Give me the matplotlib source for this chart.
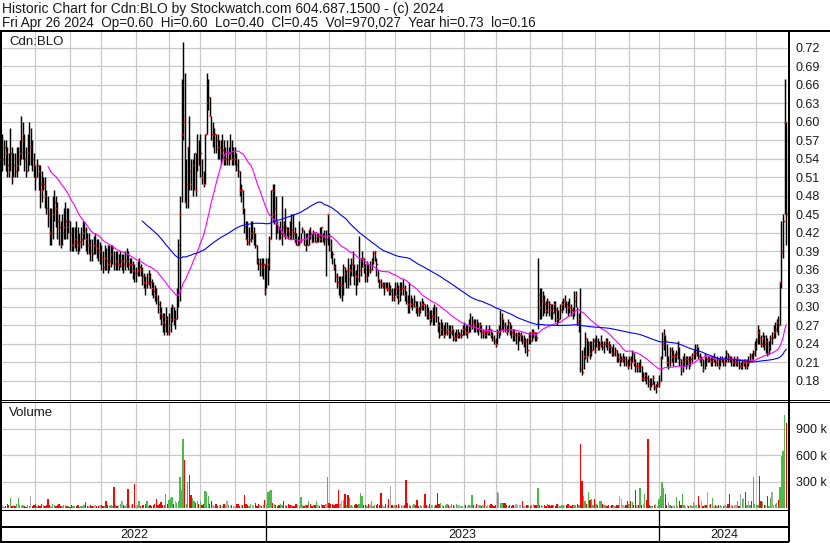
import numpy as np
import pandas as pd
import matplotlib
matplotlib.use("Agg")
import matplotlib.pyplot as plt
from matplotlib.lines import Line2D

plt.rcParams['font.family'] = ['Liberation Sans', 'DejaVu Sans']

# ---------------- text ----------------
title_line1 = "Historic Chart for Cdn:BLO by Stockwatch.com 604.687.1500 - (c) 2024"
title_line2 = "Fri Apr 26 2024  Op=0.60  Hi=0.60  Lo=0.40  Cl=0.45  Vol=970,027  Year hi=0.73  lo=0.16"
symbol_label = "Cdn:BLO"
volume_label = "Volume"

# ---------------- calendar ----------------
start_date = "2022-05-02"
end_date = "2024-04-26"
holidays = ["2022-05-23", "2022-07-01", "2022-08-01", "2022-09-05", "2022-10-10",
            "2022-12-26", "2022-12-27", "2023-01-02", "2023-02-20", "2023-04-07",
            "2023-05-22", "2023-07-03", "2023-08-07", "2023-09-04", "2023-10-09",
            "2023-12-25", "2023-12-26", "2024-01-01", "2024-02-19", "2024-03-29"]

price_ticks = [0.18, 0.21, 0.24, 0.27, 0.30, 0.33, 0.36, 0.39, 0.42, 0.45,
               0.48, 0.51, 0.54, 0.57, 0.60, 0.63, 0.66, 0.69, 0.72]
volume_ticks_k = [300, 600, 900]
ma_short = 30
ma_long = 90

# ---------------- daily data (cents) ----------------
close_c = [
    54, 56, 55, 53, 52, 55, 51, 53, 52, 53, 54, 55, 57, 58, 54, 52, 55, 56, 56, 54, 53,
    51, 53, 52, 50, 49, 50, 48, 46, 45, 42,
    42, 45, 47, 46, 44, 43, 40, 42, 43, 44, 43, 44, 42, 40, 40.5, 41, 40.5, 40, 40.5, 41,
    42, 42.5, 41, 40, 40, 39, 38.5, 40, 40, 39.5, 39, 39, 38, 36.5, 38, 37.5, 37, 37.5, 38.5, 39.5,
    37, 37.5, 37, 37, 37.5, 37.5, 37, 37.5, 37.5, 37, 37, 37, 36, 35.5, 35.5,
    36, 36.5, 36, 35, 34, 33.5, 34, 35, 34, 33, 32.5, 32, 31.5, 30.5, 29, 28.5, 27.5, 27, 28, 26,
    27, 28, 30, 28, 28, 32,
    40, 45, 58, 60, 47, 50, 56, 52, 50, 53, 55, 49, 54, 53, 55, 51, 50, 58, 63, 64,
    61, 58, 58, 58, 57, 56, 56, 55, 55.5, 54, 54, 54, 55, 55, 54, 54, 54, 53, 52,
    49, 49, 46, 43, 41, 40.5, 41, 42, 42, 42, 40, 37.5, 37, 37, 36.5,
    37, 32.5, 36.5, 37,
    41, 49, 45, 46, 44, 43, 41, 42, 43, 41.5, 43, 42.5, 42, 41.5, 42.5, 42, 40.5, 40, 40, 40.5,
    41, 42.5, 40, 41, 40, 42.5, 42, 40.5, 42, 40.5, 41.5, 41.5, 41, 43, 41.5, 41, 41, 45, 41.5, 40,
    38.5, 36.5, 35, 34, 33.5, 33.5, 33.5, 36.5, 35.5, 36, 34.5, 36, 37, 38, 35.5, 35, 34.5, 36, 37.5, 38,
    36.5, 35, 37, 36, 36, 37.5, 38.5, 39, 37, 34.5, 34, 33.5, 33.5, 33.5, 33, 33, 32.5, 32.5, 31.5, 31.5,
    33,
    32, 31, 32.5, 33, 33, 32, 31, 30.5, 31, 30.5, 30.5, 31, 30, 29.5, 29, 30, 30.5, 30.5, 29.5, 29,
    29, 28, 28.5, 28.5, 30, 29, 27, 25.5, 26.5, 26.5, 25.5, 26, 26.5, 26, 26, 26.5, 25, 25, 25.5, 25.5,
    25.5, 25.5, 26.5, 26.5, 26, 26, 27, 27, 27.5, 27, 27, 26.5, 26.5, 27, 26, 26, 25.5, 26, 26, 26.5,
    25.5, 25, 24.5, 24, 26, 26, 26.5, 28, 27, 26.5, 26, 27.5, 26.5, 26, 25.5, 25.5, 25.5, 25.5, 25.5, 25.5,
    24.5, 24.5, 24.5, 23, 25,
    24.5, 26, 26, 25.5, 25, 32, 30, 31, 31, 30.5, 29.5, 31, 30.5, 29.5, 29, 30.5, 29.5, 28, 28, 29.5,
    30.5, 31, 31, 30.5, 30, 30, 29.5, 29, 31, 32, 27.5, 28, 20, 19.5, 22, 25, 22, 24, 22.5, 23,
    24.5, 23, 24.5, 23.5, 24, 24.5, 23.5, 24, 24.5, 24, 23.5, 23.5, 22.5, 22.5, 23, 22, 21.5, 21.5, 21.5, 21.5,
    21.5, 21, 20.5, 21.5, 21, 22.5, 21, 20.5, 20.5, 20, 20.5, 18.5, 18.5, 19, 18.5, 18, 17, 17.5, 18.5, 17,
    17, 17.5, 18, 21.5,
    24, 25.5, 24.5, 21, 21, 23, 22, 22, 22, 22.5, 23.5, 21.5, 20, 21, 21.5, 21.5, 21.5, 21, 21.5, 22,
    22.5, 22.5, 23.5, 22, 21.5, 21.5, 20, 22, 21.5, 21.5, 21.5, 21, 21.5, 21.5, 21, 21.5, 20.5, 21.5, 21.5, 21,
    21, 22.5, 22, 21.5, 21.5, 21, 21, 21, 21.5, 20.5, 20.5, 21, 21, 20.5, 21, 21, 22, 21.5, 22.5, 23.5,
    24.5, 26, 25, 24, 25, 24, 24.5, 22.5, 23.5, 25, 25, 26, 26.5, 27.5, 27, 34, 39, 44, 60, 45,
]

high_c = [
    58, 57, 57, 56, 55, 59, 56, 55, 55, 56, 56, 57, 61, 60, 58, 56, 58, 60, 59, 57, 55,
    53, 54, 53, 53, 52, 51, 51, 49, 48, 46,
    46, 48, 49, 48, 47, 45, 44, 45, 46, 47, 46, 46, 44, 43, 43, 43, 44, 43, 42, 43,
    44, 44, 43, 42, 42, 41, 41, 41.5, 42, 41, 41, 40.5, 40, 39, 40, 39.5, 40, 40, 40, 40,
    39, 39, 39, 38.5, 39, 38.5, 38.5, 39, 39.5, 39, 38, 38, 37.5, 37, 36.5,
    37.5, 38, 37, 36.5, 35.5, 35, 35.5, 36, 35.5, 34.5, 34, 33.5, 33, 32, 31, 30, 29, 29, 30, 28.5,
    29, 30, 30.5, 30, 29.5, 33,
    41, 48, 67, 73, 68, 54, 56, 61, 54, 54, 55, 55, 58, 57, 58, 54, 52, 58, 68, 67,
    64, 61, 60, 59, 58, 58, 57, 57, 58, 57, 56, 57, 56, 58, 57, 56, 56, 55, 54,
    52, 50, 49, 46, 44, 44, 43, 44, 44, 43, 42, 40, 38, 38, 38,
    38, 37, 38, 38,
    41.5, 49, 50, 50, 48, 44, 43, 44, 48, 44, 46, 43, 43, 44, 45, 45, 43, 42, 41.5, 44,
    42, 43, 42.5, 42, 42, 42.5, 43, 42, 42.5, 42, 42, 42, 43, 43, 42, 42.5, 42.5, 45, 42, 41,
    39, 38, 37, 35.5, 35, 35, 35, 37, 36.5, 36, 38, 37, 38, 39, 37, 36, 37, 41.5, 38, 39,
    38, 37, 37.5, 37, 37.5, 38, 39, 39, 38, 36, 34.5, 34.5, 34, 34, 34, 34, 34, 33.5, 33, 33,
    34,
    34, 33.5, 34, 34, 34.5, 33.5, 32.5, 32, 34, 32, 31.5, 32, 31, 31, 30, 31, 31.5, 31, 30.5, 30.5,
    30, 29.5, 29.5, 30, 30.5, 30, 28.5, 27.5, 28, 27.5, 27, 27.5, 27.5, 27, 27, 27, 26.5, 26, 26.5, 26.5,
    26, 26.5, 27, 27.5, 27, 27, 28, 29, 28.5, 28, 28, 28, 27.5, 27.5, 27, 26.5, 26.5, 27, 26.5, 27,
    26.5, 26, 25.5, 25, 26.5, 27, 29.5, 29, 28, 27.5, 27, 28, 27.5, 27, 26.5, 26.5, 26, 26, 26, 26,
    25.5, 25.5, 25, 25, 26,
    26, 26.5, 26.5, 26, 26, 38, 33, 33, 32.5, 32, 31, 31.5, 31, 30.5, 30.5, 31, 31, 30, 29.5, 30.5,
    31, 31.5, 32, 31, 31, 31.5, 30.5, 30, 32.5, 32.5, 30, 29, 33, 23, 23.5, 26, 25, 24.5, 24.5, 24.5,
    25, 25, 25.5, 25, 24.5, 25.5, 24.5, 24.5, 25, 25, 24.5, 24, 23.5, 24, 23.5, 23, 22.5, 22.5, 22, 22.5,
    22, 22, 21.5, 22, 22, 23, 22.5, 21.5, 21, 21, 21.5, 20.5, 19.5, 19.5, 19.5, 19, 18.5, 18.5, 19, 18,
    17.5, 18, 19, 22,
    26, 26.5, 25.5, 24, 22, 23.5, 23.5, 23, 22.5, 23, 24.5, 23.5, 21.5, 22, 22.5, 22, 22, 22, 22, 22.5,
    23, 24, 24, 23.5, 22.5, 22, 21.5, 22.5, 22, 22, 22, 22, 22, 22.5, 21.5, 22, 21.5, 22, 22, 21.5,
    22, 23, 22.5, 22, 22, 21.5, 22, 21.5, 22, 21.5, 21, 21.5, 21.5, 21.5, 21.5, 22, 22.5, 22.5, 23, 24.5,
    25, 27, 26.5, 25.5, 26, 25.5, 25.5, 25, 24.5, 25.5, 26, 27, 27.5, 28, 28.5, 34, 44, 45, 67, 60,
]

low_c = [
    52, 53, 52, 51, 51, 52, 50, 51, 51, 51, 52, 53, 54, 54, 52, 51, 52, 53, 53, 52, 51,
    49, 51, 49, 46, 47, 49, 46, 45, 43, 40,
    40, 41, 44, 43, 41, 40, 39.5, 40, 41, 41, 41, 42, 39, 39, 39, 39.5, 39, 38.5, 39, 39.5,
    40, 41, 39, 38.5, 38.5, 37.5, 37.5, 38.5, 38.5, 38, 37.5, 37, 36, 35.5, 36, 36, 35.5, 36, 36.5, 37,
    36, 36, 36, 36, 36.5, 36, 35.5, 36, 36.5, 36, 35.5, 35.5, 34.5, 34, 34,
    35, 35, 35, 33.5, 33, 32, 33, 33.5, 33, 32, 31.5, 31, 30.5, 29, 28, 27, 26, 25.5, 26, 25.5,
    25.5, 26, 27.5, 27, 26.5, 28,
    30, 31, 47, 57, 47, 46, 46, 49, 49, 48, 49, 48, 52, 53, 51, 50, 49.5, 50, 58, 62,
    61, 57, 56, 55, 55, 54, 54, 53, 54, 53, 53, 53, 53, 54, 53, 53, 53, 52, 51,
    48, 47, 45, 42, 41, 40, 40, 40.5, 41, 40, 39.5, 37, 36, 35, 35,
    34.5, 32, 33, 33.5,
    36, 41, 44, 43.5, 41, 42, 41, 41, 40, 41.5, 41, 41.5, 41, 41, 41, 41, 40.5, 40, 40, 40,
    40.5, 42, 40, 39, 40, 40, 41, 40.5, 40.5, 40.5, 40.5, 40.5, 40.5, 40.5, 40.5, 40, 35, 40, 39, 38,
    37, 36, 34, 33, 32, 31.5, 31, 32, 34, 33, 33, 33.5, 35, 35, 33.5, 32, 33.5, 34, 35, 36.5,
    35.5, 34, 34, 35, 35.5, 36, 37, 37.5, 35, 34, 33, 33, 33, 32, 33, 32.5, 32, 32, 31, 31,
    32,
    31.5, 30.5, 31, 32, 32, 31, 30.5, 29, 29, 30, 29.5, 30, 29, 28.5, 28.5, 29, 29.5, 29.5, 28.5, 28,
    28, 27, 27.5, 27, 27, 27.5, 26, 25, 25.5, 25.5, 25, 25.5, 25.5, 25, 25, 25.5, 24.5, 24.5, 24.5, 25,
    25, 25, 25.5, 25.5, 25.5, 25, 26, 26, 26.5, 26, 26, 26, 25.5, 26, 25, 25, 25, 25, 25.5, 25.5,
    25, 24.5, 24, 23.5, 24, 25, 25.5, 26.5, 26, 26, 25.5, 26, 25.5, 25, 24.5, 24.5, 24, 23, 24.5, 24.5,
    24, 23.5, 22.5, 22, 24,
    24, 24.5, 25, 24.5, 24.5, 26.5, 28, 28, 28.5, 29, 28.5, 29, 28.5, 28, 28, 29, 27.5, 27, 27.5, 28,
    29, 29.5, 30, 29, 28.5, 29, 28.5, 28, 28.5, 30, 27, 26, 19.5, 19, 20, 21.5, 21, 22, 21.5, 22,
    23, 22.5, 23.5, 23, 23, 23.5, 23, 22.5, 23.5, 23, 22.5, 22.5, 22, 22, 22, 21, 21, 20.5, 21, 21,
    20.5, 20.5, 20, 20.5, 20, 21, 20.5, 19.5, 19.5, 19.5, 19.5, 18, 18, 18, 17.5, 17, 16.5, 17, 17.5, 16.5,
    16, 17, 17, 18,
    21.5, 23, 22, 20.5, 20, 20.5, 21, 20.5, 21, 21, 21.5, 20.5, 19, 19.5, 20.5, 20, 20.5, 20, 20.5, 21,
    21.5, 21.5, 22, 21.5, 21, 20.5, 19.5, 20, 20.5, 21, 21, 20.5, 20.5, 21, 20.5, 20.5, 20, 20.5, 21, 20.5,
    20.5, 21, 21, 21, 20.5, 20.5, 20.5, 20.5, 20.5, 20, 20, 20, 20.5, 20, 20, 20.5, 21, 21, 21.5, 22,
    23, 24, 24, 23.5, 23.5, 23, 22.5, 22, 22.5, 23, 24, 25, 25, 26, 25.5, 27, 33, 38, 45, 40,
]

volume_k = [
    30, 15, 25, 40, 30, 112, 20, 35, 25, 40,
    112, 30, 20, 35, 25, 15, 30, 20, 139, 25,
    30, 45, 20, 35, 25, 40, 30, 20, 35, 105,
    30, 25, 45, 35, 20, 30, 40, 25, 20, 35,
    30, 20, 25, 15, 30, 20, 25, 20, 30, 15,
    20, 25, 30, 67, 25, 20, 30, 25, 20, 30,
    25, 20, 30, 35, 20, 25, 82, 30, 20, 30,
    25, 240, 30, 20, 35, 40, 82, 30, 25, 40,
    217, 30, 35, 45, 274, 20, 30, 75, 25, 30,
    35, 40, 82, 25, 30, 20, 35, 45, 100, 30,
    40, 65, 30, 35, 157, 40, 94, 112, 120, 50,
    82, 60, 75, 356, 202, 780, 544, 40, 292, 375,
    150, 112, 82, 56, 82, 40, 75, 30, 45, 195,
    184, 131, 40, 75, 30, 25, 45, 20, 35, 30,
    25, 40, 30, 82, 35, 25, 30, 20, 25, 40,
    40, 25, 30, 35, 150, 45, 30, 25, 40, 35,
    30, 52, 25, 40, 30, 25, 35, 94, 40, 180,
    188, 200, 60, 45, 30, 25, 35, 40, 30, 75,
    30, 25, 40, 35, 30, 20, 25, 45, 30, 25,
    120, 30, 25, 35, 30, 82, 40, 25, 30, 35,
    82, 30, 25, 40, 35, 30, 45, 356, 60, 40,
    50, 35, 40, 45, 206, 40, 75, 94, 161, 30,
    150, 112, 30, 25, 35, 40, 30, 40, 165, 131,
    35, 30, 25, 40, 30, 82, 25, 30, 35, 40,
    30, 165, 35, 25, 40, 30, 100, 251, 30, 25,
    35, 30, 40, 25, 30, 20, 35, 319, 60, 30,
    25, 35, 40, 30, 94, 25, 30, 20, 35, 160,
    30, 25, 40, 35, 30, 20, 30, 172, 40, 56,
    30, 25, 35, 40, 30, 20, 45, 30, 25, 40,
    35, 30, 20, 25, 40, 30, 25, 35, 30, 150,
    30, 25, 40, 35, 30, 20, 30, 94, 25, 30,
    35, 40, 30, 25, 30, 184, 176, 60, 60, 60,
    60, 30, 25, 35, 20, 30, 25, 40, 30, 35,
    30, 75, 25, 20, 30, 35, 25, 30, 40, 30,
    30, 225, 30, 35, 25, 30, 20, 40, 30, 25,
    30, 35, 25, 40, 30, 20, 35, 30, 25, 30,
    40, 30, 25, 35, 30, 35, 40, 30, 731, 307,
    131, 75, 40, 180, 94, 100, 30, 100, 40, 35,
    82, 75, 40, 30, 35, 25, 30, 20, 35, 30,
    25, 30, 35, 139, 100, 30, 20, 35, 75, 40,
    75, 67, 30, 202, 35, 30, 225, 30, 40, 160,
    94, 787, 30, 20, 25, 30, 40, 20, 105, 142,
    292, 225, 157, 30, 67, 30, 25, 20, 35, 127,
    25, 75, 30, 161, 30, 25, 35, 20, 30, 25,
    67, 30, 35, 142, 30, 82, 25, 30, 35, 180,
    30, 40, 112, 25, 30, 20, 35, 30, 25, 20,
    30, 25, 40, 161, 30, 20, 35, 30, 82, 25,
    161, 105, 112, 180, 35, 82, 30, 75, 356, 40,
    30, 30, 364, 82, 67, 30, 35, 139, 25, 112,
    180, 30, 40, 60, 90, 244, 590, 650, 1060, 970,
]

# ---------------- prepare ----------------
days = pd.bdate_range(start_date, end_date)
days = days[~days.isin(pd.to_datetime(holidays))]
n = min(len(days), len(close_c), len(high_c), len(low_c), len(volume_k))
days = days[:n]
close = np.array(close_c[:n], dtype=float) / 100.0
high = np.array(high_c[:n], dtype=float) / 100.0
low = np.array(low_c[:n], dtype=float) / 100.0
vol = np.array(volume_k[:n], dtype=float)
x = np.arange(n)

ma1 = pd.Series(close).rolling(ma_short).mean().values
ma2 = pd.Series(close).rolling(ma_long).mean().values

chg = np.diff(close, prepend=close[0])
vcolors = np.where(chg > 0, "#4cbb4c", np.where(chg < 0, "#ff0000", "#aaaaaa"))

month_starts = [i for i in range(1, n) if days[i].month != days[i - 1].month]
year_starts = [i for i in month_starts if days[i].month == 1]

# ---------------- figure ----------------
W, H = 830, 543
fig = plt.figure(figsize=(W / 100, H / 100), dpi=100)
fig.patch.set_facecolor("white")


def rect(x0, y0, x1, y1):
    return [x0 / W, 1 - y1 / H, (x1 - x0) / W, (y1 - y0) / H]


def pxline(x0, y0, x1, y1, lw_px=1.0, color="black"):
    fig.add_artist(Line2D([x0 / W, x1 / W], [1 - y0 / H, 1 - y1 / H],
                          transform=fig.transFigure, color=color,
                          lw=lw_px * 0.72, solid_capstyle="butt", zorder=10))


XL, XR = 2, 789
xlim = (-0.3, 500.8)
grid_col = "#c8c8c8"
grid_lw = 1.2 * 0.72
txt_col = "#1a1a1a"

# price panel
ax = fig.add_axes(rect(XL, 31.5, XR, 400))
ax.set_xlim(*xlim)
ax.set_ylim(0.1491, 0.7465)
for s in ax.spines.values():
    s.set_visible(False)
for m in month_starts:
    ax.axvline(m, color=grid_col, lw=grid_lw, zorder=0)
for t in price_ticks:
    ax.axhline(t, color=grid_col, lw=grid_lw, zorder=0)
ax.vlines(x, low, high, color="black", lw=1.05, zorder=2)
ax.plot(x + 0.35, close, linestyle="none", marker="s", ms=1.15, color="#ff0000",
        mec="none", zorder=3)
ax.plot(x, ma1, color="#ff00ff", lw=0.8, zorder=4)
ax.plot(x, ma2, color="#0000ff", lw=0.8, zorder=4)
ax.set_xticks([])
ax.yaxis.tick_right()
ax.set_yticks(price_ticks)
ax.set_yticklabels([f"{t:.2f}" for t in price_ticks])
ax.tick_params(axis="y", length=0, pad=5, labelsize=9, colors=txt_col)
ax.text(7.3 / (XR - XL), 1 - (42 - 31.5) / (400 - 31.5), symbol_label,
        transform=ax.transAxes, fontsize=9.5, va="center", ha="left", color=txt_col)

# volume panel
axv = fig.add_axes(rect(XL, 402.5, XR, 509.5))
axv.set_xlim(*xlim)
axv.set_ylim(-17, 1199)
for s in axv.spines.values():
    s.set_visible(False)
for m in month_starts:
    axv.axvline(m, color=grid_col, lw=grid_lw, zorder=0)
for t in volume_ticks_k:
    axv.axhline(t, color=grid_col, lw=grid_lw, zorder=0)
axv.bar(x, vol, width=0.85, color=vcolors, linewidth=0, zorder=2)
axv.set_xticks([])
axv.yaxis.tick_right()
axv.set_yticks(volume_ticks_k)
axv.set_yticklabels([f"{t} k" for t in volume_ticks_k])
axv.tick_params(axis="y", length=0, pad=5, labelsize=9, colors=txt_col)
axv.text(7.3 / (XR - XL), 1 - (413 - 402.5) / (509.5 - 402.5), volume_label,
         transform=axv.transAxes, fontsize=9.5, va="center", ha="left", color=txt_col)

# titles
fig.text(1.5 / W, 1 - 8.5 / H, title_line1, fontsize=10, va="center", ha="left", color=txt_col)
fig.text(1.5 / W, 1 - 23 / H, title_line2, fontsize=9.75, va="center", ha="left", color=txt_col)

# frame lines
px_per_bar = (XR - XL) / (xlim[1] - xlim[0])


def bar_px(i):
    return XL + (i - xlim[0]) * px_per_bar


pxline(0, 30.5, W, 30.5, 2)
pxline(1, 30, 1, 542, 2)
pxline(XR, 30, XR, 542, 2)
pxline(0, 400.3, W, 400.3, 1)
pxline(0, 402.2, W, 402.2, 1)
pxline(0, 510.3, XR, 510.3, 1)
pxline(0, 527.2, XR, 527.2, 2)
pxline(0, 541.5, XR, 541.5, 2)
for ys in year_starts:
    xp = bar_px(ys)
    pxline(xp, 510, xp, 541, 1.3)

# year labels
bounds = [XL] + [bar_px(ys) for ys in year_starts] + [XR]
years = [days[0].year] + [days[ys].year for ys in year_starts]
for k, yr in enumerate(years):
    xm = (bounds[k] + bounds[k + 1]) / 2
    fig.text(xm / W, 1 - 534.5 / H, str(yr), fontsize=9, ha="center", va="center",
             color=txt_col)

fig.savefig("out.png", dpi=100, facecolor="white")
